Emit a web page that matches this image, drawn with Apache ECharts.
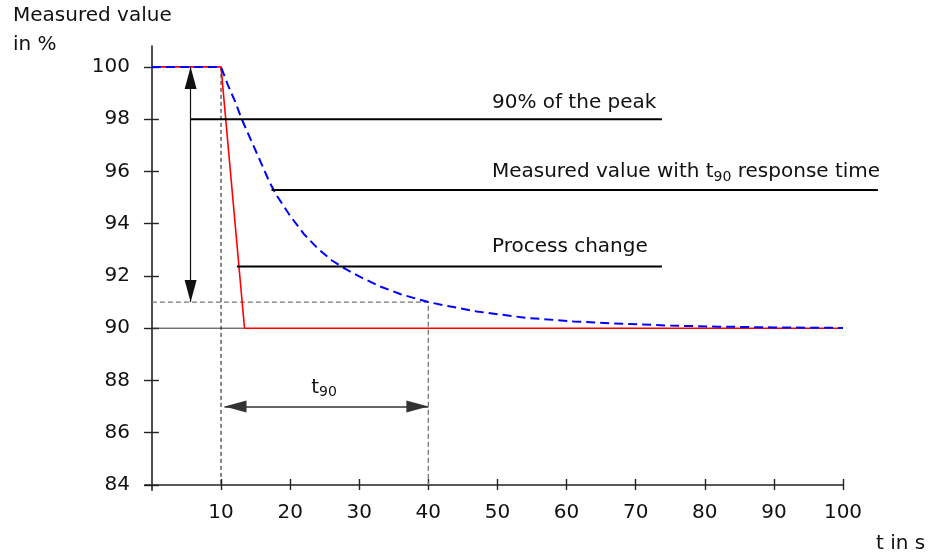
<!DOCTYPE html>
<html>
<head>
<meta charset="utf-8">
<script src="https://cdn.jsdelivr.net/npm/echarts@6/dist/echarts.min.js"></script>
<style>html,body{margin:0;padding:0;background:#fff;}#chart{width:934px;height:555px;}</style>
</head>
<body>
<div id="chart"></div>
<script>
// ---- data ----
const xTicks = [10, 20, 30, 40, 50, 60, 70, 80, 90, 100];
const yTicks = [84, 86, 88, 90, 92, 94, 96, 98, 100];

const processTime  = [0, 10, 13.4, 100];
const processValue = [100, 100, 90, 90];

const measuredTime  = [0, 10, 11, 12, 13, 14, 15, 16, 17, 18, 20, 22, 24, 26, 28, 30, 33, 36, 40, 43, 47, 54, 61, 68, 75, 82, 90, 100];
const measuredValue = [100, 100, 99.3, 98.7, 98.0, 97.4, 96.8, 96.2, 95.6, 95.1, 94.3, 93.6, 93.05, 92.6, 92.27, 91.98, 91.6, 91.3, 91.0, 90.84, 90.64, 90.4, 90.26, 90.17, 90.1, 90.06, 90.03, 90.01];

const stepTime = 10;      // process change starts
const t90Time = 40;       // time at which measured value reaches 90 % of change
const t90Level = 91;
const finalLevel = 90;
const peakLevel = 100;
const yMin = 84;

const labelTexts = ['90% of the peak', 'Measured value with t{s|90} response time', 'Process change'];
const leaderLevels = [98, 95.29, 92.36];
const leaderStarts = [5.6, 17.3, 12.3];
const leaderEnds = [73.8, 105.05, 73.8];
const labelLevels = [98.64, 95.97, 93.12];
const labelTime = 49.2;
const peakArrowTime = 5.6;
const spanArrowLevel = 87;
const spanArrowStart = 10.5;
const t90LabelPos = [24.9, 87.72];

// ---- chart ----
const FONT = 'DejaVu Sans';
const TXT = '#111';
const AX = '#222';
const zip = (a, b) => a.map((v, i) => [v, b[i]]);

const chart = echarts.init(document.getElementById('chart'), null, {renderer: 'canvas'});

const X_MIN = -1, X_MAX = 100, X_MAX_WIDE = 106;
const GRID_LEFT = 145, GRID_RIGHT = 91, GRID_TOP = 46, GRID_BOTTOM = 64.8;
const plotWidth = 934 - GRID_LEFT - GRID_RIGHT;
const wideWidth = plotWidth / (X_MAX - X_MIN) * (X_MAX_WIDE - X_MIN);

const commonX = {type: 'value', min: X_MIN, max: X_MAX, position: 'bottom', splitLine: {show: false}};
const commonY = {type: 'value', min: 83.8, max: 100.8, position: 'left', splitLine: {show: false}};

const series = [];
// thin 90 % guide from axis to process line, plus the two double arrows
series.push({type: 'line', data: [[0, finalLevel], [processTime[2], finalLevel]], symbol: 'none', silent: true,
  lineStyle: {color: '#333', width: 1},
  markLine: {
    silent: true, animation: false, symbol: ['triangle', 'triangle'],
    label: {show: false},
    lineStyle: {color: '#111', width: 1.2, type: 'solid'},
    data: [
      [{coord: [peakArrowTime, peakLevel], symbolSize: [12, 22], symbolOffset: [0, 11]},
       {coord: [peakArrowTime, t90Level], symbolSize: [12, 22], symbolOffset: [0, 11]}],
      [{coord: [spanArrowStart, spanArrowLevel], symbolSize: [12, 22], symbolOffset: [0, 11], lineStyle: {color: '#333', width: 1.5}},
       {coord: [t90Time, spanArrowLevel], symbolSize: [12, 22], symbolOffset: [0, 11]}]
    ]
  }
});
// vertical dashed at step time
series.push({type: 'line', data: [[stepTime, peakLevel], [stepTime, yMin]], symbol: 'none', silent: true,
  lineStyle: {color: '#111', width: 1, type: [4, 3]}});
// grey dashed t90 guide
series.push({type: 'line', data: [[0, t90Level], [t90Time, t90Level], [t90Time, yMin]], symbol: 'none', silent: true,
  lineStyle: {color: '#777', width: 1.3, type: [5, 3]}});
// process change (red)
series.push({type: 'line', name: 'Process change', data: zip(processTime, processValue), symbol: 'none',
  lineStyle: {color: '#ff0000', width: 1.6}});
// measured value (blue dashed)
series.push({type: 'line', name: 'Measured value', data: zip(measuredTime, measuredValue), symbol: 'none',
  lineStyle: {color: '#0000ff', width: 2, type: [9, 5]}});
// leader lines (on a wider, hidden grid so they may run past the axis end)
for (let i = 0; i < 3; i++) {
  series.push({type: 'line', xAxisIndex: 2, yAxisIndex: 3,
    data: [[leaderStarts[i], leaderLevels[i]], [leaderEnds[i], leaderLevels[i]]],
    symbol: 'none', silent: true, clip: false, lineStyle: {color: '#000', width: 2}});
}
// labels
const rich = {s: {fontSize: 14, fontFamily: FONT, color: TXT, lineHeight: 12, verticalAlign: 'bottom'}};
series.push({type: 'scatter', symbolSize: 0, silent: true, itemStyle: {opacity: 1},
  data: labelTexts.map((t, i) => ({value: [labelTime, labelLevels[i]], name: t})),
  label: {show: true, position: 'right', distance: 0, formatter: p => p.name, opacity: 1,
    fontFamily: FONT, fontSize: 20, color: TXT, lineHeight: 24, rich: rich}});
series.push({type: 'scatter', symbolSize: 0, silent: true, itemStyle: {opacity: 1},
  data: [{value: t90LabelPos, name: 't{s|90}'}],
  label: {show: true, position: 'inside', formatter: p => p.name, opacity: 1,
    fontFamily: FONT, fontSize: 20, color: TXT, lineHeight: 24, rich: rich}});

chart.setOption({
  animation: false,
  backgroundColor: '#fff',
  title: [
    {text: 'Measured value\nin %', left: 13, top: 1, padding: 0,
      textStyle: {fontFamily: FONT, fontSize: 20, fontWeight: 'normal', color: TXT, lineHeight: 29}},
    {text: 't in s', left: 876, top: 534, padding: 0,
      textStyle: {fontFamily: FONT, fontSize: 20, fontWeight: 'normal', color: TXT, lineHeight: 20}}
  ],
  grid: [
    {left: GRID_LEFT, right: GRID_RIGHT, top: GRID_TOP, bottom: GRID_BOTTOM, containLabel: false, outerBoundsMode: 'none'},
    {left: GRID_LEFT, width: wideWidth, top: GRID_TOP, bottom: GRID_BOTTOM, containLabel: false, outerBoundsMode: 'none'}
  ],
  xAxis: [
    Object.assign({}, commonX, {
      axisLine: {show: true, onZero: true, onZeroAxisIndex: 1, lineStyle: {color: AX, width: 1.6}},
      axisTick: {show: true, customValues: xTicks, length: 5, lineStyle: {color: AX, width: 1.4}},
      axisLabel: {show: true, customValues: xTicks, margin: 13, fontFamily: FONT, fontSize: 20, color: TXT}
    }),
    Object.assign({}, commonX, {
      axisLine: {show: false, onZero: true, onZeroAxisIndex: 1},
      axisTick: {show: true, inside: true, customValues: xTicks, length: 6, lineStyle: {color: AX, width: 1.4}},
      axisLabel: {show: false}
    }),
    {type: 'value', gridIndex: 1, min: X_MIN, max: X_MAX_WIDE, show: false, splitLine: {show: false}}
  ],
  yAxis: [
    Object.assign({}, commonY, {
      axisLine: {show: true, onZero: true, onZeroAxisIndex: 0, lineStyle: {color: AX, width: 1.6}},
      axisTick: {show: true, customValues: yTicks, length: 8, lineStyle: {color: AX, width: 1.4}},
      axisLabel: {show: true, customValues: yTicks, margin: 15, fontFamily: FONT, fontSize: 20, color: TXT}
    }),
    {type: 'value', min: -0.2, max: 16.8, show: false, position: 'left', splitLine: {show: false}},
    Object.assign({}, commonY, {
      axisLine: {show: false, onZero: true, onZeroAxisIndex: 0},
      axisTick: {show: true, inside: true, customValues: yTicks, length: 7, lineStyle: {color: AX, width: 1.4}},
      axisLabel: {show: false}
    }),
    Object.assign({}, commonY, {gridIndex: 1, show: false})
  ],
  series: series
});
</script>
</body>
</html>
